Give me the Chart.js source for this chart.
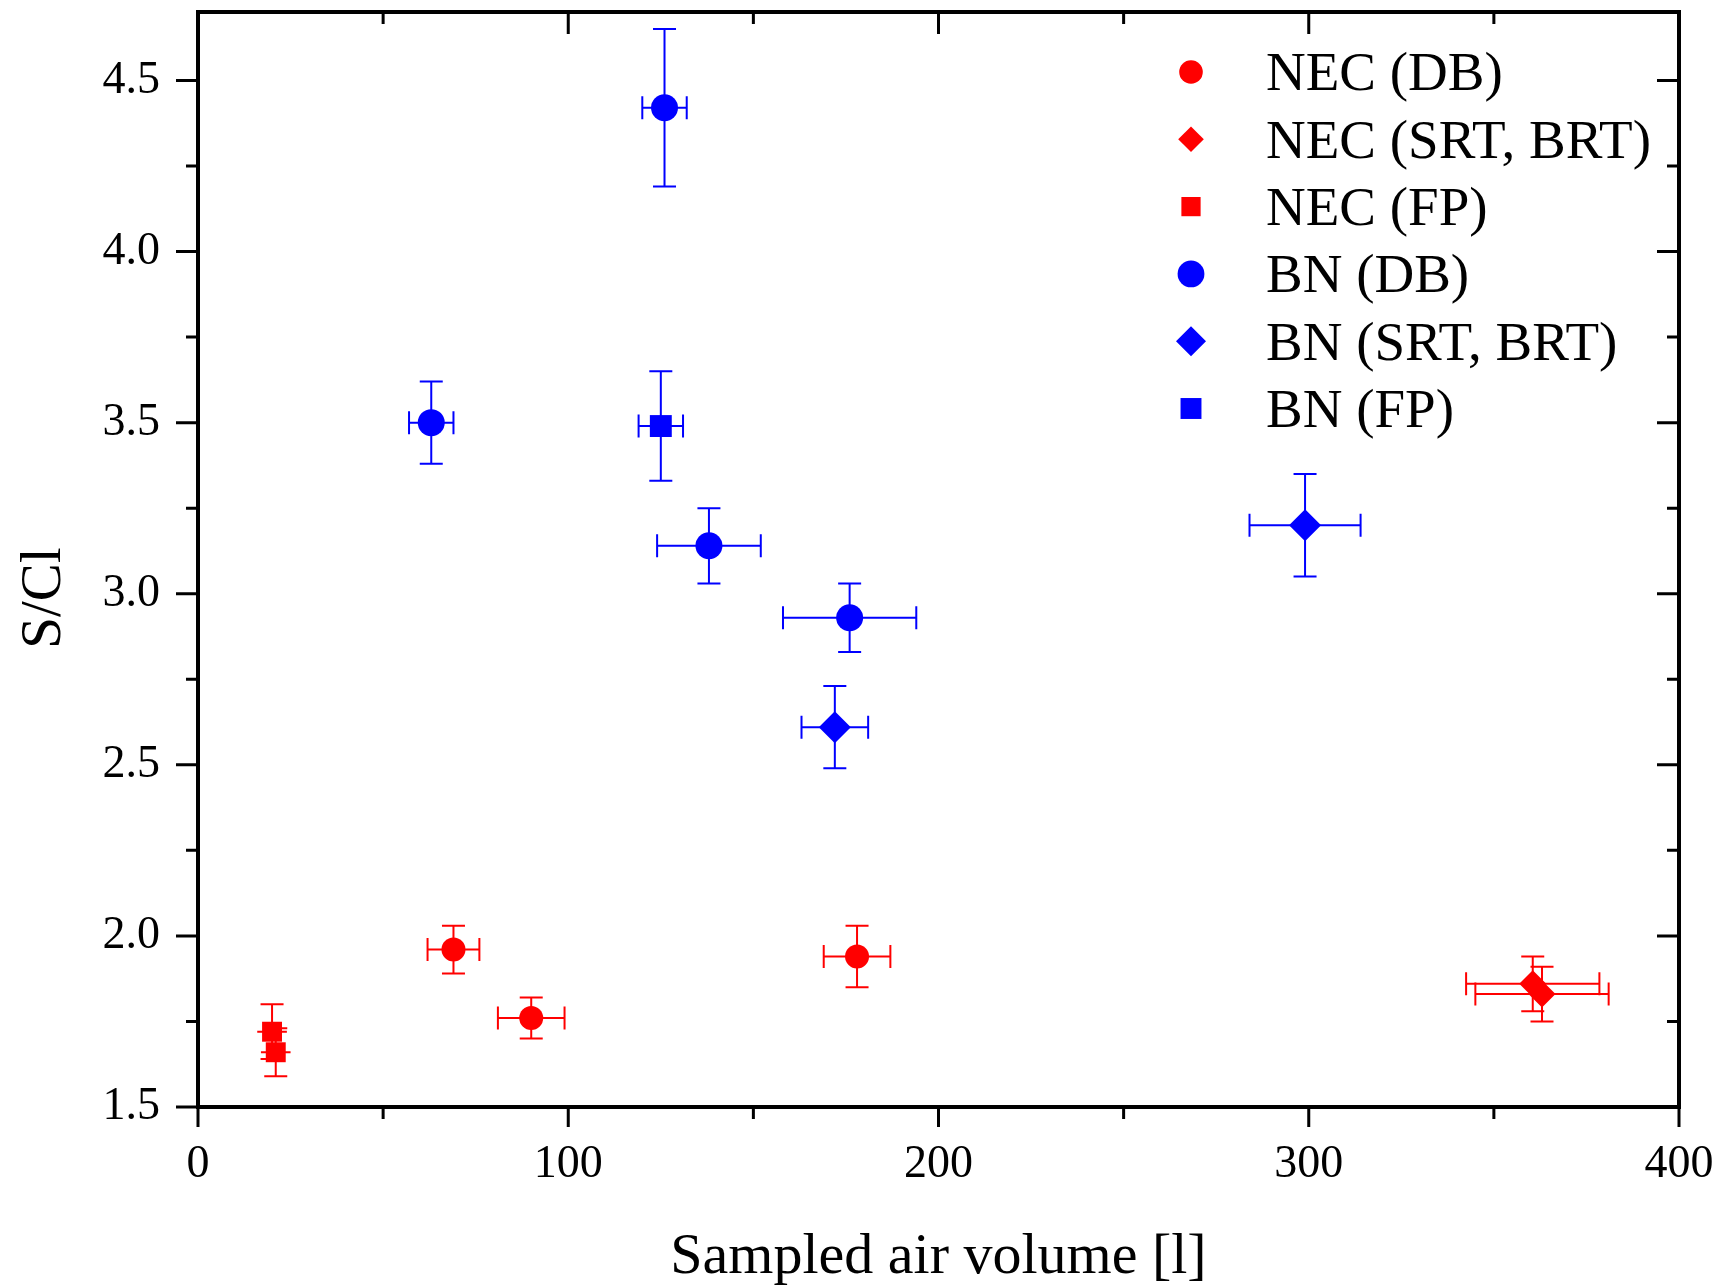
<!DOCTYPE html>
<html>
<head>
<meta charset="utf-8">
<script src="https://cdn.jsdelivr.net/npm/chart.js@4.4.1/dist/chart.umd.min.js"></script>
<style>
html,body{margin:0;padding:0;background:#ffffff;overflow:hidden;}
#wrap{width:1723px;height:1287px;position:relative;}
</style>
</head>
<body>
<div id="wrap"><canvas id="c" width="1723" height="1287"></canvas></div>
<script>
// ---- data ----
const seriesNames = ['NEC (DB)', 'NEC (SRT, BRT)', 'NEC (FP)', 'BN (DB)', 'BN (SRT, BRT)', 'BN (FP)'];

const necDbX = [69, 90, 178];
const necDbY = [1.96, 1.76, 1.94];
const necDbXErr = [7, 9, 9];
const necDbYErr = [0.07, 0.06, 0.09];

const necSrtX = [360.5, 363];
const necSrtY = [1.86, 1.83];
const necSrtXErr = [18, 18];
const necSrtYErr = [0.08, 0.08];

const necFpX = [20, 21];
const necFpY = [1.72, 1.66];
const necFpXErr = [4, 4];
const necFpYErr = [0.08, 0.07];

const bnDbX = [126, 63, 138, 176];
const bnDbY = [4.42, 3.50, 3.14, 2.93];
const bnDbXErr = [6, 6, 14, 18];
const bnDbYErr = [0.23, 0.12, 0.11, 0.10];

const bnSrtX = [172, 299];
const bnSrtY = [2.61, 3.20];
const bnSrtXErr = [9, 15];
const bnSrtYErr = [0.12, 0.15];

const bnFpX = [125];
const bnFpY = [3.49];
const bnFpXErr = [6];
const bnFpYErr = [0.16];

const xTickValues = [0, 100, 200, 300, 400];
const xMinorTickValues = [50, 150, 250, 350];
const yTickValues = [1.5, 2.0, 2.5, 3.0, 3.5, 4.0, 4.5];
const yMinorTickValues = [1.75, 2.25, 2.75, 3.25, 3.75, 4.25];

const xTitle = 'Sampled air volume [l]';
const yTitle = 'S/Cl';

// ---- helpers ----
const RED = '#ff0000';
const BLUE = '#0000ff';
const FONT = "'Liberation Serif', 'Times New Roman', serif";

function pts(xs, ys, xe, ye) {
  return xs.map((v, i) => ({x: v, y: ys[i], xErr: xe[i], yErr: ye[i]}));
}

const styles = [
  {color: RED, style: 'circle', r: 12, lr: 11.8},
  {color: RED, style: 'rectRot', r: 13.5, lr: 12.8},
  {color: RED, style: 'rect', r: 14.1, lr: 13.6},
  {color: BLUE, style: 'circle', r: 13.5, lr: 13.4},
  {color: BLUE, style: 'rectRot', r: 16, lr: 15},
  {color: BLUE, style: 'rect', r: 15.5, lr: 14.8}
];

const dataSets = [
  pts(necDbX, necDbY, necDbXErr, necDbYErr),
  pts(necSrtX, necSrtY, necSrtXErr, necSrtYErr),
  pts(necFpX, necFpY, necFpXErr, necFpYErr),
  pts(bnDbX, bnDbY, bnDbXErr, bnDbYErr),
  pts(bnSrtX, bnSrtY, bnSrtXErr, bnSrtYErr),
  pts(bnFpX, bnFpY, bnFpXErr, bnFpYErr)
];

function drawMarker(ctx, style, x, y, r, color) {
  ctx.save();
  ctx.fillStyle = color;
  ctx.beginPath();
  if (style === 'circle') {
    ctx.arc(x, y, r, 0, Math.PI * 2);
  } else if (style === 'rectRot') {
    ctx.moveTo(x, y - r); ctx.lineTo(x + r, y); ctx.lineTo(x, y + r); ctx.lineTo(x - r, y);
    ctx.closePath();
  } else {
    const h = r * Math.SQRT1_2;
    ctx.rect(x - h, y - h, 2 * h, 2 * h);
  }
  ctx.fill();
  ctx.restore();
}

const errorBars = {
  id: 'errorBars',
  beforeDatasetsDraw(chart) {
    const ctx = chart.ctx;
    const xs = chart.scales.x, ys = chart.scales.y;
    const cap = 11.5;
    chart.data.datasets.forEach((ds, di) => {
      ctx.save();
      ctx.strokeStyle = ds.backgroundColor;
      ctx.lineWidth = 2;
      const r = ds.pointRadius;
      ds.data.forEach(p => {
        const px = xs.getPixelForValue(p.x), py = ys.getPixelForValue(p.y);
        const xl = xs.getPixelForValue(p.x - p.xErr), xr = xs.getPixelForValue(p.x + p.xErr);
        const yt = ys.getPixelForValue(p.y + p.yErr), yb = ys.getPixelForValue(p.y - p.yErr);
        ctx.beginPath();
        ctx.moveTo(xl, py); ctx.lineTo(xr, py);
        ctx.moveTo(px, yt); ctx.lineTo(px, yb);
        ctx.stroke();
        ctx.beginPath();
        if ((px - xl) > r + 4) {
          ctx.moveTo(xl, py - cap); ctx.lineTo(xl, py + cap);
          ctx.moveTo(xr, py - cap); ctx.lineTo(xr, py + cap);
        }
        ctx.moveTo(px - cap, yt); ctx.lineTo(px + cap, yt);
        ctx.moveTo(px - cap, yb); ctx.lineTo(px + cap, yb);
        ctx.stroke();
      });
      ctx.restore();
    });
  }
};

const frame = {
  id: 'frame',
  afterDraw(chart) {
    const ctx = chart.ctx;
    const a = chart.chartArea;
    const xs = chart.scales.x, ys = chart.scales.y;
    ctx.save();
    ctx.strokeStyle = '#000';
    ctx.lineCap = 'butt';
    ctx.lineWidth = 3;
    ctx.beginPath();
    const major = 22, minor = 12;
    xTickValues.forEach(v => {
      const p = xs.getPixelForValue(v);
      ctx.moveTo(p, a.bottom); ctx.lineTo(p, a.bottom + 20);
      ctx.moveTo(p, a.top); ctx.lineTo(p, a.top + major);
    });
    xMinorTickValues.forEach(v => {
      const p = xs.getPixelForValue(v);
      ctx.moveTo(p, a.bottom); ctx.lineTo(p, a.bottom + minor);
      ctx.moveTo(p, a.top); ctx.lineTo(p, a.top + minor);
    });
    yTickValues.forEach(v => {
      const p = ys.getPixelForValue(v);
      ctx.moveTo(a.left, p); ctx.lineTo(a.left - major, p);
      ctx.moveTo(a.right, p); ctx.lineTo(a.right - major, p);
    });
    yMinorTickValues.forEach(v => {
      const p = ys.getPixelForValue(v);
      ctx.moveTo(a.left, p); ctx.lineTo(a.left - minor, p);
      ctx.moveTo(a.right, p); ctx.lineTo(a.right - minor, p);
    });
    ctx.stroke();
    ctx.lineWidth = 4;
    ctx.strokeRect(a.left, a.top, a.right - a.left, a.bottom - a.top);
    ctx.restore();

    // legend
    ctx.save();
    ctx.font = '55px ' + FONT;
    ctx.fillStyle = '#000';
    ctx.textAlign = 'left';
    ctx.textBaseline = 'alphabetic';
    const lx = 1191, tx = 1266, ly0 = 72, dy = 67.3;
    seriesNames.forEach((name, i) => {
      const cy = ly0 + i * dy;
      drawMarker(ctx, styles[i].style, lx, cy, styles[i].lr, styles[i].color);
      ctx.fillText(name, tx, cy + 18.3);
    });
    ctx.restore();

    // y title
    ctx.save();
    ctx.font = '57px ' + FONT;
    ctx.fillStyle = '#000';
    ctx.textAlign = 'center';
    ctx.textBaseline = 'middle';
    ctx.translate(45, 598);
    ctx.rotate(-Math.PI / 2);
    ctx.fillText(yTitle, 0, 0);
    ctx.restore();
  }
};

function zeroPad(s) {
  s.paddingTop = 0; s.paddingBottom = 0; s.paddingLeft = 0; s.paddingRight = 0;
}

const chart = new Chart(document.getElementById('c'), {
  type: 'scatter',
  data: {
    datasets: dataSets.map((d, i) => ({
      label: seriesNames[i],
      data: d,
      backgroundColor: styles[i].color,
      borderColor: styles[i].color,
      borderWidth: 0,
      pointStyle: styles[i].style,
      pointRadius: styles[i].r,
      pointHoverRadius: styles[i].r,
      showLine: false
    }))
  },
  options: {
    responsive: false,
    animation: false,
    devicePixelRatio: 1,
    layout: {autoPadding: false, padding: {top: 12, right: 44, bottom: 0, left: 0}},
    plugins: {legend: {display: false}, tooltip: {enabled: false}},
    scales: {
      x: {
        type: 'linear', min: 0, max: 400,
        afterBuildTicks: s => { s.ticks = xTickValues.map(v => ({value: v})); },
        afterFit: s => { s.height = 180; zeroPad(s); },
        grid: {display: false, drawTicks: false},
        border: {display: false},
        ticks: {color: '#000', padding: 30, font: {family: FONT, size: 46}, callback: v => String(v)},
        title: {display: true, text: xTitle, color: '#000', font: {family: FONT, size: 58, lineHeight: 1.0}, padding: {top: 0, bottom: 0}}
      },
      y: {
        type: 'linear', min: 1.5, max: 4.7,
        afterBuildTicks: s => { s.ticks = yTickValues.map(v => ({value: v})); },
        afterFit: s => { s.width = 198; zeroPad(s); },
        grid: {display: false, drawTicks: false},
        border: {display: false},
        ticks: {color: '#000', padding: 38, font: {family: FONT, size: 46}, callback: v => Number(v).toFixed(1)}
      }
    }
  },
  plugins: [errorBars, frame]
});
</script>
</body>
</html>
